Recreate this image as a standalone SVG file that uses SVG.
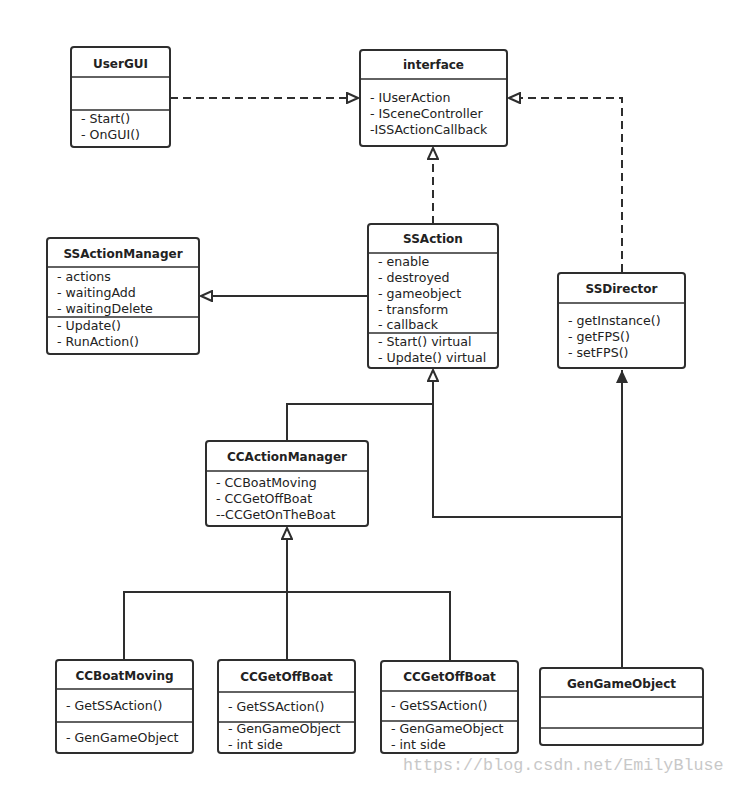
<svg xmlns="http://www.w3.org/2000/svg" width="735" height="785" viewBox="0 0 735 785">
<style>
.box{fill:#fff;stroke:#2e2e2e;stroke-width:2}
.div{stroke:#2e2e2e;stroke-width:1.5}
.t{font-family:"DejaVu Sans","Liberation Sans",sans-serif;font-size:12.6px;fill:#222}
.h{font-family:"DejaVu Sans","Liberation Sans",sans-serif;font-size:12px;font-weight:bold;fill:#222;text-anchor:middle}
.c{fill:none;stroke:#2e2e2e;stroke-width:2}
.d{stroke-dasharray:8,5}
.wm{font-family:"Liberation Mono",monospace;font-size:16.7px;fill:#c8c8c8}
</style>
<defs>
<marker id="hollow" markerWidth="14" markerHeight="12" refX="12" refY="6" orient="auto" markerUnits="userSpaceOnUse">
<path d="M1,1 L12,6 L1,11 Z" fill="#fff" stroke="#2e2e2e" stroke-width="2"/>
</marker>
<marker id="filled" markerWidth="14" markerHeight="14" refX="13" refY="6" orient="auto" markerUnits="userSpaceOnUse">
<path d="M0,0 L13,6 L0,12 Z" fill="#2e2e2e"/>
</marker>
</defs>
<g id="connectors">
<path class="c d" d="M170,98 H358" marker-end="url(#hollow)"/>
<path class="c d" d="M622,272 V98 H509" marker-end="url(#hollow)"/>
<path class="c d" d="M433,224 V148" marker-end="url(#hollow)"/>
<path class="c" d="M368,296 H201" marker-end="url(#hollow)"/>
<path class="c" d="M622,668 V370" marker-end="url(#filled)"/>
<path class="c" d="M622,517 H433 V370" marker-end="url(#hollow)"/>
<path class="c" d="M287,441 V404 H433"/>
<path class="c" d="M287,660 V528" marker-end="url(#hollow)"/>
<path class="c" d="M124,660 V592 H450 V660"/>
</g>
<g id="UserGUI">
<rect class="box" x="71" y="47" width="99" height="100" rx="3"/>
<line class="div" x1="71" y1="77" x2="170" y2="77"/>
<line class="div" x1="71" y1="110" x2="170" y2="110"/>
<text class="h" x="120.5" y="68">UserGUI</text>
<text class="t" x="81" y="123">- Start()</text>
<text class="t" x="81" y="139">- OnGUI()</text>
</g>
<g id="interface">
<rect class="box" x="360" y="50" width="147" height="96" rx="3"/>
<line class="div" x1="360" y1="79" x2="507" y2="79"/>
<text class="h" x="433.5" y="69">interface</text>
<text class="t" x="370" y="102">- IUserAction</text>
<text class="t" x="370" y="118">- ISceneController</text>
<text class="t" x="370" y="134">-ISSActionCallback</text>
</g>
<g id="SSAction">
<rect class="box" x="368" y="224" width="130" height="144" rx="3"/>
<line class="div" x1="368" y1="253" x2="498" y2="253"/>
<line class="div" x1="368" y1="333" x2="498" y2="333"/>
<text class="h" x="433" y="243">SSAction</text>
<text class="t" x="378" y="266">- enable</text>
<text class="t" x="378" y="282">- destroyed</text>
<text class="t" x="378" y="298">- gameobject</text>
<text class="t" x="378" y="314">- transform</text>
<text class="t" x="378" y="329">- callback</text>
<text class="t" x="378" y="346">- Start() virtual</text>
<text class="t" x="378" y="362">- Update() virtual</text>
</g>
<g id="SSActionManager">
<rect class="box" x="47" y="238" width="152" height="116" rx="3"/>
<line class="div" x1="47" y1="267" x2="199" y2="267"/>
<line class="div" x1="47" y1="317" x2="199" y2="317"/>
<text class="h" x="123" y="258">SSActionManager</text>
<text class="t" x="57" y="281">- actions</text>
<text class="t" x="57" y="297">- waitingAdd</text>
<text class="t" x="57" y="313">- waitingDelete</text>
<text class="t" x="57" y="330">- Update()</text>
<text class="t" x="57" y="346">- RunAction()</text>
</g>
<g id="SSDirector">
<rect class="box" x="558" y="273" width="127" height="95" rx="3"/>
<line class="div" x1="558" y1="303" x2="685" y2="303"/>
<text class="h" x="621.5" y="293">SSDirector</text>
<text class="t" x="568" y="325">- getInstance()</text>
<text class="t" x="568" y="341">- getFPS()</text>
<text class="t" x="568" y="357">- setFPS()</text>
</g>
<g id="CCActionManager">
<rect class="box" x="206" y="441" width="162" height="85" rx="3"/>
<line class="div" x1="206" y1="471" x2="368" y2="471"/>
<text class="h" x="287" y="461">CCActionManager</text>
<text class="t" x="216" y="487">- CCBoatMoving</text>
<text class="t" x="216" y="503">- CCGetOffBoat</text>
<text class="t" x="216" y="519">--CCGetOnTheBoat</text>
</g>
<g id="CCBoatMoving">
<rect class="box" x="56" y="660" width="137" height="93" rx="3"/>
<line class="div" x1="56" y1="689" x2="193" y2="689"/>
<line class="div" x1="56" y1="722" x2="193" y2="722"/>
<text class="h" x="124.5" y="680">CCBoatMoving</text>
<text class="t" x="66" y="710">- GetSSAction()</text>
<text class="t" x="66" y="742">- GenGameObject</text>
</g>
<g id="CCGetOffBoat1">
<rect class="box" x="218" y="660" width="137" height="93" rx="3"/>
<line class="div" x1="218" y1="692" x2="355" y2="692"/>
<line class="div" x1="218" y1="722" x2="355" y2="722"/>
<text class="h" x="286.5" y="681">CCGetOffBoat</text>
<text class="t" x="228" y="711">- GetSSAction()</text>
<text class="t" x="228" y="733">- GenGameObject</text>
<text class="t" x="228" y="749">- int side</text>
</g>
<g id="CCGetOffBoat2">
<rect class="box" x="381" y="661" width="137" height="92" rx="3"/>
<line class="div" x1="381" y1="691" x2="518" y2="691"/>
<line class="div" x1="381" y1="721" x2="518" y2="721"/>
<text class="h" x="449.5" y="681">CCGetOffBoat</text>
<text class="t" x="391" y="710">- GetSSAction()</text>
<text class="t" x="391" y="733">- GenGameObject</text>
<text class="t" x="391" y="749">- int side</text>
</g>
<g id="GenGameObject">
<rect class="box" x="540" y="668" width="163" height="77" rx="3"/>
<line class="div" x1="540" y1="697" x2="703" y2="697"/>
<line class="div" x1="540" y1="728" x2="703" y2="728"/>
<text class="h" x="621.5" y="688">GenGameObject</text>
</g>
<text class="wm" x="403" y="770">https://blog.csdn.net/EmilyBluse</text>
</svg>
